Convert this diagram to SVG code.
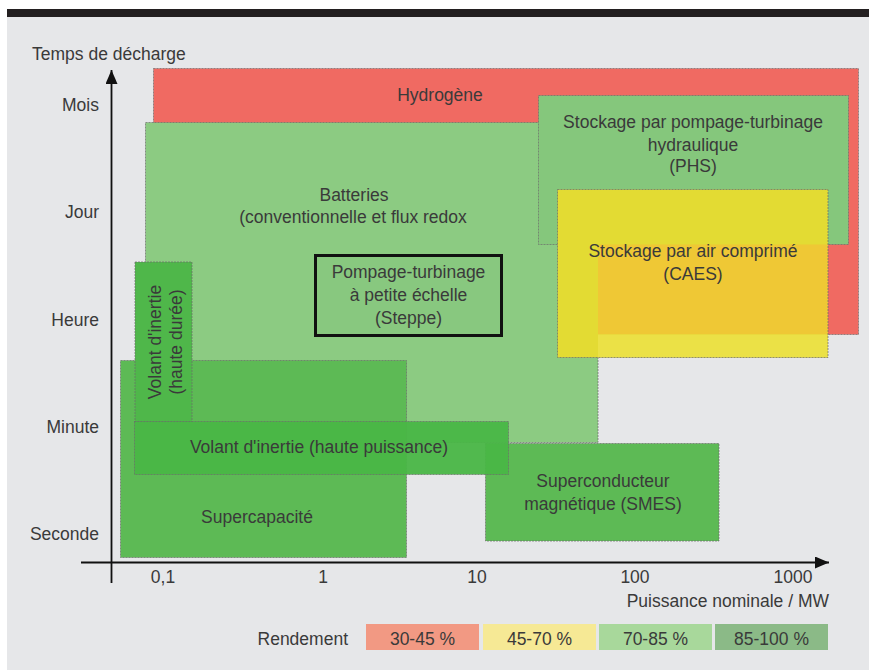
<svg xmlns="http://www.w3.org/2000/svg" width="869" height="670" viewBox="0 0 869 670">
<style>
text{font-family:"Liberation Sans",Arial,sans-serif;font-size:17.5px;fill:#3a3a3a}
.c{text-anchor:middle}
.r{text-anchor:end}
.bx{stroke:#6b6b6b;stroke-width:0.7;stroke-dasharray:2 1}
.ax{stroke:#111;stroke-width:1.8;fill:none}
.lg{stroke:none}
</style>
<defs>
<marker id="ah" markerWidth="14" markerHeight="12" refX="14" refY="6" orient="auto" markerUnits="userSpaceOnUse">
<path d="M0,0 L14,6 L0,12 Z" fill="#111"/>
</marker>
</defs>
<rect x="0" y="0" width="869" height="670" fill="#ffffff"/>
<rect x="7" y="17" width="862" height="653" fill="#e6e7e9"/>
<rect x="7" y="9" width="862" height="8" fill="#231f20"/>

<g id="hydrogene">
<rect class="bx" x="153.5" y="68.5" width="705" height="266" fill="#f06a62"/>
<text class="c" x="440" y="101">Hydrogène</text>
</g>
<g id="batteries">
<rect class="bx" x="145.5" y="122.5" width="452.5" height="320" fill="#8ccb82"/>
<text class="c" x="354" y="201">Batteries</text>
<text class="c" x="353" y="223">(conventionnelle et flux redox</text>
</g>
<g id="phs">
<rect class="bx" x="538.5" y="95.5" width="310" height="149" fill="#85c77c"/>
<text class="c" x="693" y="128">Stockage par pompage-turbinage</text>
<text class="c" x="693" y="151">hydraulique</text>
<text class="c" x="693" y="172">(PHS)</text>
</g>
<g id="caes">
<rect x="557.5" y="189.5" width="270.5" height="168" fill="#e3db33"/>
<rect x="598" y="244.5" width="230" height="90" fill="#efc835"/>
<rect x="598" y="334.5" width="230" height="23" fill="#ebe146"/>
<rect class="bx" x="557.5" y="189.5" width="270.5" height="168" fill="none"/>
<text class="c" x="693" y="257">Stockage par air comprimé</text>
<text class="c" x="693" y="280">(CAES)</text>
</g>
<g id="steppe">
<rect x="315.5" y="255.5" width="186" height="80" fill="#88c87f" stroke="#111" stroke-width="3"/>
<text class="c" x="408.5" y="278">Pompage-turbinage</text>
<text class="c" x="408.5" y="301">à petite échelle</text>
<text class="c" x="408.5" y="324">(Steppe)</text>
</g>
<g id="supercapacite">
<rect class="bx" x="120.5" y="360.5" width="286" height="197" fill="#5dba55"/>
<text class="c" x="257" y="523">Supercapacité</text>
</g>
<g id="volant-duree">
<rect class="bx" x="135" y="262" width="57" height="160" fill="#4fb74a"/>
<text class="c" transform="translate(161,342) rotate(-90)" x="0" y="0">Volant d'inertie</text>
<text class="c" transform="translate(182,342) rotate(-90)" x="0" y="0">(haute durée)</text>
</g>
<g id="smes">
<rect class="bx" x="485.5" y="443.5" width="233.5" height="97.5" fill="#5dba55"/>
<text class="c" x="603" y="487">Superconducteur</text>
<text class="c" x="603" y="510">magnétique (SMES)</text>
</g>
<g id="volant-puissance">
<rect class="bx" x="134.5" y="421.5" width="374" height="53" fill="#49b646" fill-opacity="0.95"/>
<text class="c" x="319" y="453">Volant d'inertie (haute puissance)</text>
</g>

<g id="connectors">
<line class="ax" x1="111.5" y1="583" x2="111.5" y2="70" marker-end="url(#ah)"/>
<line class="ax" x1="81" y1="562.5" x2="829" y2="562.5" marker-end="url(#ah)"/>
</g>

<g id="axis-labels">
<text x="32" y="60">Temps de décharge</text>
<text class="r" x="99" y="111">Mois</text>
<text class="r" x="99" y="218">Jour</text>
<text class="r" x="99" y="326">Heure</text>
<text class="r" x="99" y="433">Minute</text>
<text class="r" x="99" y="540">Seconde</text>
<text class="c" x="163" y="583">0,1</text>
<text class="c" x="323" y="583">1</text>
<text class="c" x="477" y="583">10</text>
<text class="c" x="635" y="583">100</text>
<text class="c" x="793" y="583">1000</text>
<text class="r" x="829" y="607">Puissance nominale / MW</text>
</g>

<g id="legend">
<text class="r" x="348" y="645">Rendement</text>
<rect class="lg" x="366" y="624" width="113" height="26" fill="#f29983"/>
<text class="c" x="422.5" y="645">30-45 %</text>
<rect class="lg" x="483" y="624" width="113" height="26" fill="#f6e995"/>
<text class="c" x="539.5" y="645">45-70 %</text>
<rect class="lg" x="599" y="624" width="113" height="26" fill="#a8d89b"/>
<text class="c" x="655.5" y="645">70-85 %</text>
<rect class="lg" x="715" y="624" width="113" height="26" fill="#8bba87"/>
<text class="c" x="771.5" y="645">85-100 %</text>
</g>
</svg>
